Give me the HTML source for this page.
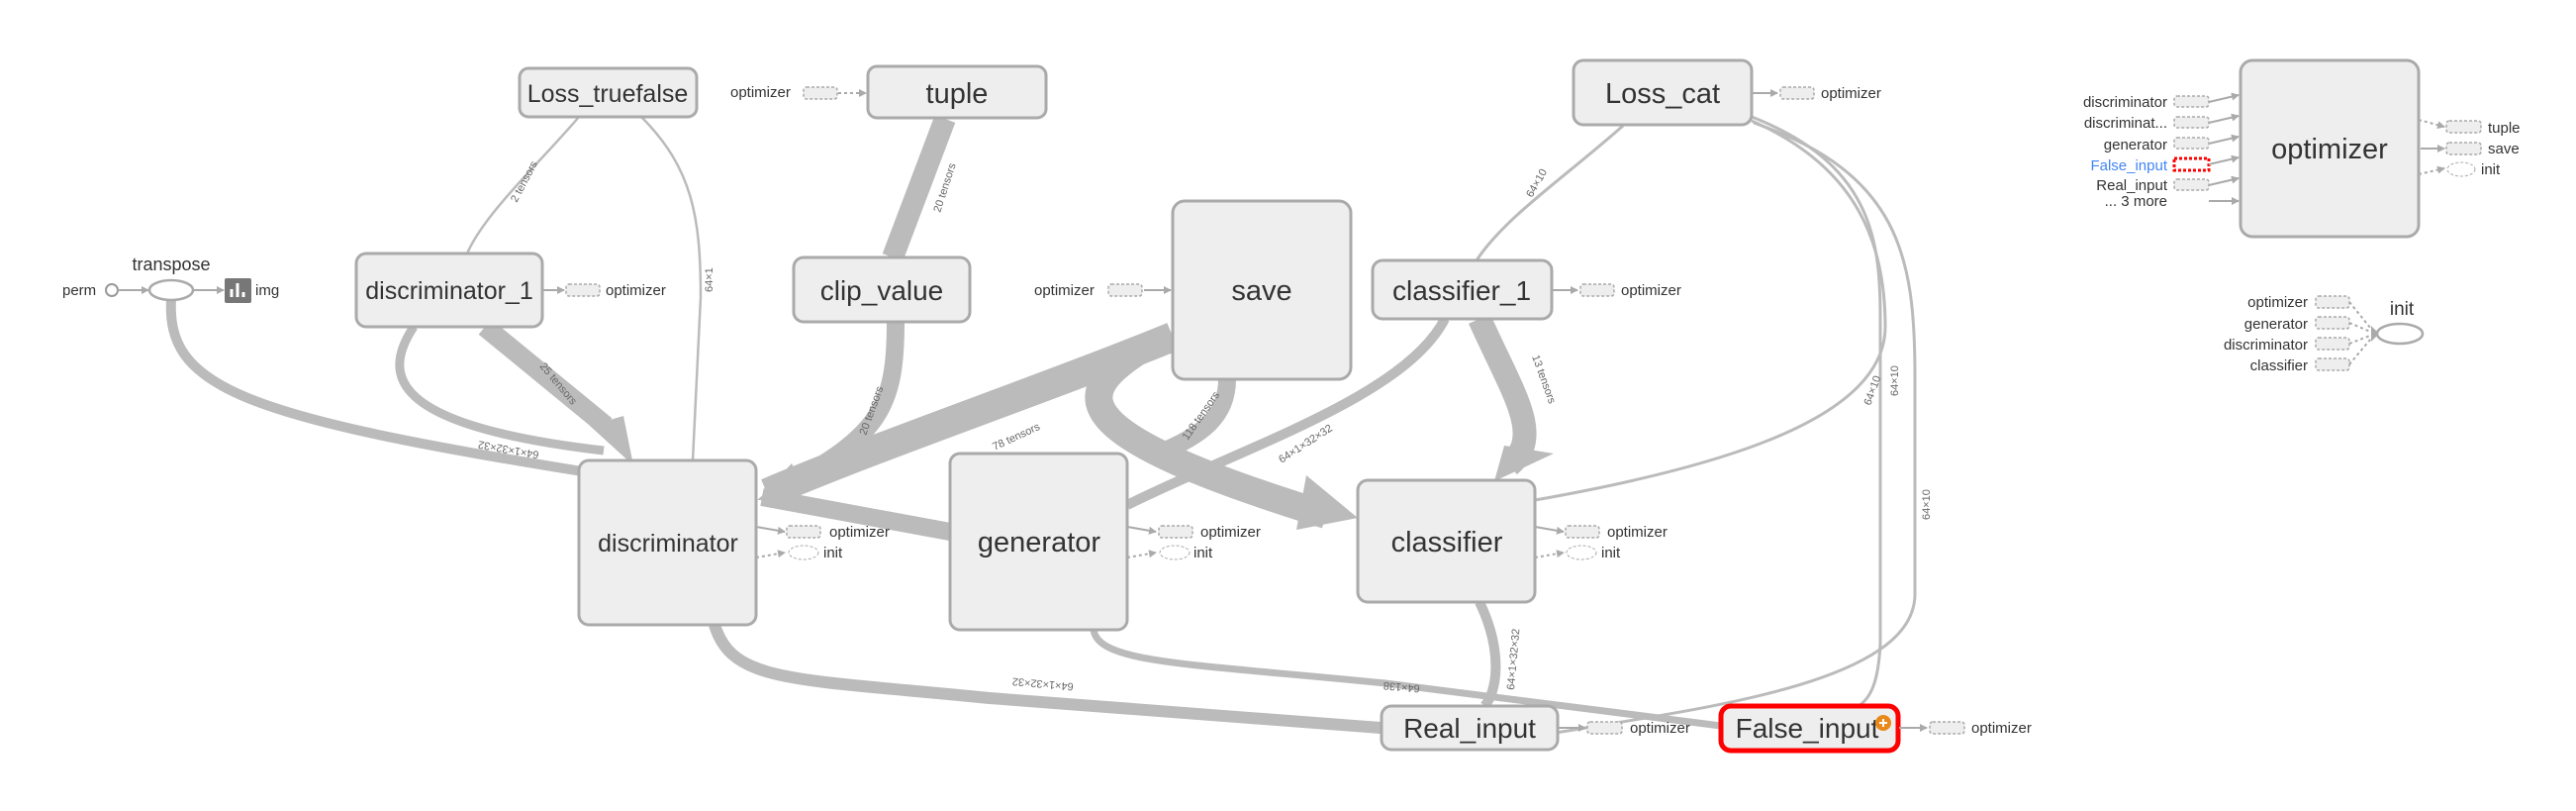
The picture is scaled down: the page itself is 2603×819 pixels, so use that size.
<!DOCTYPE html>
<html><head><meta charset="utf-8"><style>
html,body{margin:0;padding:0;background:#fff;width:2603px;height:819px;overflow:hidden}
svg{display:block;font-family:"Liberation Sans",sans-serif}
.n{fill:#eee;stroke:#aaa;stroke-width:3}
.e{fill:none;stroke:#bbb;stroke-linecap:butt}
.t{fill:#333;text-anchor:middle}
.s{fill:#333;font-size:15px}
.l{fill:#666;font-size:11px}
.st{fill:#eee;stroke:#aaa;stroke-width:1.5;stroke-dasharray:3,2}
.a{stroke:#aaa;stroke-width:2;fill:none}
.ad{stroke:#aaa;stroke-width:2;fill:none;stroke-dasharray:3,3}
</style></head><body>
<svg width="2603" height="819" viewBox="0 0 2603 819">
<defs>
<marker id="ar" markerWidth="8" markerHeight="8" refX="7" refY="4" orient="auto" markerUnits="userSpaceOnUse"><path d="M0,0L8,4L0,8z" fill="#aaa"/></marker>
<marker id="ar2" markerWidth="10" markerHeight="10" refX="9" refY="5" orient="auto" markerUnits="userSpaceOnUse"><path d="M0,0L10,5L0,10z" fill="#aaa"/></marker>
</defs>
<!-- main edges -->
<path class="e" stroke-width="10" d="M173,302 C168,390 240,420 588,476"/>
<path class="e" stroke-width="9" d="M418,330 C385,380 395,430 610,455"/>
<path class="e" stroke-width="20" d="M490,330 L612,430"/>
<path d="M596,430 L640,470 L630,420 Z" fill="#bbb"/>
<path class="e" stroke-width="2.5" d="M585,118 C545,165 490,215 472,256"/>
<path class="e" stroke-width="2.5" d="M648,118 C700,170 708,220 708,300 L700,465"/>
<path class="e" stroke-width="22" d="M955,120 L902,260"/>
<path class="e" stroke-width="18" d="M905,325 C905,410 890,440 790,492"/>
<path d="M770,500 L800,468 L815,498 Z" fill="#bbb"/>
<path class="e" stroke-width="30" d="M1185,340 C1050,395 900,445 775,498"/>
<path d="M765,505 L800,475 L810,505 Z" fill="#bbb"/>
<path class="e" stroke-width="18" d="M960,537 L770,502"/>
<path class="e" stroke-width="28" d="M1150,355 C1080,400 1080,440 1340,520"/>
<path d="M1372,523 L1320,480 L1310,535 Z" fill="#bbb"/>
<path class="e" stroke-width="18" d="M1240,383 C1240,420 1215,440 1170,458"/>
<path class="e" stroke-width="24" d="M1495,322 C1530,400 1560,440 1525,470"/>
<path d="M1510,486 L1570,458 L1520,450 Z" fill="#bbb"/>
<path class="e" stroke-width="10" d="M1460,322 C1420,400 1260,450 1139,510"/>
<path class="e" stroke-width="3" d="M1640,127 C1580,180 1520,220 1492,263"/>
<path class="e" stroke-width="3" d="M1770,122 C1880,170 1905,250 1905,330 C1905,420 1750,470 1551,505"/>
<path class="e" stroke-width="3" d="M1770,118 C1890,165 1900,240 1900,320 L1900,650 C1898,690 1890,705 1878,713"/>
<path class="e" stroke-width="3" d="M1772,124 C1920,175 1935,260 1935,380 L1935,600 C1935,690 1720,715 1572,740"/>
<path class="e" stroke-width="12" d="M722,631 C740,690 800,685 1000,705 L1395,735"/>
<path class="e" stroke-width="7" d="M1105,636 C1110,670 1200,670 1400,690 L1739,733"/>
<path class="e" stroke-width="10" d="M1495,608 C1520,660 1512,700 1500,713"/>
<!-- edge labels -->
<text class="l" transform="translate(522,205) rotate(-62)">2 tensors</text>
<text class="l" transform="translate(720,295) rotate(-90)">64×1</text>
<text class="l" transform="translate(950,215) rotate(-72)">20 tensors</text>
<text class="l" transform="translate(875,440) rotate(-70)">20 tensors</text>
<text class="l" transform="translate(545,370) rotate(50)">25 tensors</text>
<text class="l" transform="translate(1005,455) rotate(-25)">78 tensors</text>
<text class="l" transform="translate(1200,445) rotate(-55)">118 tensors</text>
<text class="l" transform="translate(1295,468) rotate(-33)">64×1×32×32</text>
<text class="l" transform="translate(1548,360) rotate(70)">13 tensors</text>
<text class="l" transform="translate(1548,200) rotate(-60)">64×10</text>
<text class="l" transform="translate(1890,410) rotate(-70)">64×10</text>
<text class="l" transform="translate(1918,400) rotate(-90)">64×10</text>
<text class="l" transform="translate(1950,525) rotate(-90)">64×10</text>
<text class="l" transform="translate(545,456) rotate(190)">64×1×32×32</text>
<text class="l" transform="translate(1085,690) rotate(185)">64×1×32×32</text>
<text class="l" transform="translate(1435,692) rotate(185)">64×138</text>
<text class="l" transform="translate(1530,697) rotate(-85)">64×1×32×32</text>
<!-- nodes -->
<rect class="n" x="525" y="69" width="179" height="49" rx="9"/><text class="t" x="614" y="103" font-size="25">Loss_truefalse</text>
<rect class="n" x="877" y="67" width="180" height="52" rx="9"/><text class="t" x="967" y="104" font-size="29">tuple</text>
<rect class="n" x="360" y="256" width="188" height="74" rx="10"/><text class="t" x="454" y="302" font-size="25">discriminator_1</text>
<rect class="n" x="802" y="260" width="178" height="65" rx="10"/><text class="t" x="891" y="303" font-size="28">clip_value</text>
<rect class="n" x="1185" y="203" width="180" height="180" rx="12"/><text class="t" x="1275" y="303" font-size="29">save</text>
<rect class="n" x="1387" y="263" width="181" height="59" rx="10"/><text class="t" x="1477" y="303" font-size="28">classifier_1</text>
<rect class="n" x="1590" y="61" width="180" height="65" rx="10"/><text class="t" x="1680" y="104" font-size="29">Loss_cat</text>
<rect class="n" x="2264" y="61" width="180" height="178" rx="12"/><text class="t" x="2354" y="160" font-size="29">optimizer</text>
<rect class="n" x="585" y="465" width="179" height="166" rx="10"/><text class="t" x="675" y="557" font-size="25">discriminator</text>
<rect class="n" x="960" y="458" width="179" height="178" rx="10"/><text class="t" x="1050" y="557" font-size="29">generator</text>
<rect class="n" x="1372" y="485" width="179" height="123" rx="10"/><text class="t" x="1462" y="557" font-size="29">classifier</text>
<rect class="n" x="1396" y="713" width="178" height="44" rx="10"/><text class="t" x="1485" y="745" font-size="28">Real_input</text>
<rect x="1739" y="713" width="179" height="45" rx="10" fill="#eee" stroke="#f00" stroke-width="5"/><text class="t" x="1826" y="745" font-size="28">False_input</text>
<circle cx="1903" cy="730" r="8" fill="#e8891a"/><path d="M1899,730h8M1903,726v8" stroke="#fff" stroke-width="2"/>
<!-- transpose -->
<text class="s" x="63" y="298">perm</text>
<circle cx="113" cy="293" r="6" fill="#fff" stroke="#999" stroke-width="2"/>
<line class="a" x1="119" y1="293" x2="150" y2="293" marker-end="url(#ar)"/>
<ellipse cx="173" cy="293" rx="22" ry="10" fill="#fff" stroke="#aaa" stroke-width="2.5"/>
<text class="t" x="173" y="273" font-size="18">transpose</text>
<line class="a" x1="195" y1="293" x2="226" y2="293" marker-end="url(#ar)"/>
<rect x="227" y="281" width="27" height="25" rx="2" fill="#777"/>
<path d="M234,300v-8M240,300v-14M246,300v-5" stroke="#fff" stroke-width="3"/>
<text class="s" x="258" y="298">img</text>
<!-- optimizer stubs -->
<g>
<line class="a" x1="548" y1="293" x2="570" y2="293" marker-end="url(#ar)"/><rect class="st" x="572" y="287" width="34" height="12" rx="3"/><text class="s" x="612" y="298">optimizer</text>
<text class="s" x="738" y="98">optimizer</text><rect class="st" x="812" y="88" width="34" height="12" rx="3"/><line class="ad" x1="847" y1="94" x2="875" y2="94" marker-end="url(#ar)"/>
<text class="s" x="1045" y="298">optimizer</text><rect class="st" x="1120" y="287" width="34" height="12" rx="3"/><line class="a" x1="1156" y1="293" x2="1183" y2="293" marker-end="url(#ar)"/>
<line class="a" x1="1568" y1="293" x2="1594" y2="293" marker-end="url(#ar)"/><rect class="st" x="1597" y="287" width="34" height="12" rx="3"/><text class="s" x="1638" y="298">optimizer</text>
<line class="a" x1="1770" y1="94" x2="1796" y2="94" marker-end="url(#ar)"/><rect class="st" x="1799" y="88" width="34" height="12" rx="3"/><text class="s" x="1840" y="99">optimizer</text>
<line class="a" x1="764" y1="532" x2="793" y2="537" marker-end="url(#ar)"/><rect class="st" x="795" y="531" width="34" height="12" rx="3"/><text class="s" x="838" y="542">optimizer</text>
<line class="ad" x1="764" y1="563" x2="793" y2="558" marker-end="url(#ar)"/><ellipse cx="812" cy="558" rx="15" ry="7" fill="#fff" stroke="#aaa" stroke-dasharray="3,2"/><text class="s" x="832" y="563">init</text>
<line class="a" x1="1139" y1="532" x2="1168" y2="537" marker-end="url(#ar)"/><rect class="st" x="1171" y="531" width="34" height="12" rx="3"/><text class="s" x="1213" y="542">optimizer</text>
<line class="ad" x1="1139" y1="563" x2="1168" y2="558" marker-end="url(#ar)"/><ellipse cx="1187" cy="558" rx="15" ry="7" fill="#fff" stroke="#aaa" stroke-dasharray="3,2"/><text class="s" x="1206" y="563">init</text>
<line class="a" x1="1551" y1="532" x2="1580" y2="537" marker-end="url(#ar)"/><rect class="st" x="1582" y="531" width="34" height="12" rx="3"/><text class="s" x="1624" y="542">optimizer</text>
<line class="ad" x1="1551" y1="563" x2="1580" y2="558" marker-end="url(#ar)"/><ellipse cx="1598" cy="558" rx="15" ry="7" fill="#fff" stroke="#aaa" stroke-dasharray="3,2"/><text class="s" x="1618" y="563">init</text>
<line class="a" x1="1574" y1="735" x2="1602" y2="735" marker-end="url(#ar)"/><rect class="st" x="1604" y="729" width="35" height="12" rx="3"/><text class="s" x="1647" y="740">optimizer</text>
<line class="a" x1="1919" y1="735" x2="1947" y2="735" marker-end="url(#ar)"/><rect class="st" x="1950" y="729" width="35" height="12" rx="3"/><text class="s" x="1992" y="740">optimizer</text>
</g>
<!-- optimizer panel -->
<g font-size="15" fill="#333" text-anchor="end">
<text x="2190" y="108">discriminator</text>
<text x="2190" y="129">discriminat...</text>
<text x="2190" y="151">generator</text>
<text x="2190" y="172" fill="#4285f4">False_input</text>
<text x="2190" y="192">Real_input</text>
<text x="2190" y="208">... 3 more</text>
</g>
<rect class="st" x="2197" y="97" width="35" height="11" rx="3"/>
<rect class="st" x="2197" y="118" width="35" height="11" rx="3"/>
<rect class="st" x="2197" y="139" width="35" height="11" rx="3"/>
<rect x="2197" y="160" width="35" height="12" fill="#fff" stroke="#f00" stroke-width="3" stroke-dasharray="3,2"/>
<rect class="st" x="2197" y="181" width="35" height="11" rx="3"/>
<line class="a" x1="2232" y1="103" x2="2262" y2="96" marker-end="url(#ar)"/>
<line class="a" x1="2232" y1="124" x2="2262" y2="117" marker-end="url(#ar)"/>
<line class="a" x1="2232" y1="145" x2="2262" y2="138" marker-end="url(#ar)"/>
<line class="a" x1="2232" y1="166" x2="2262" y2="159" marker-end="url(#ar)"/>
<line class="a" x1="2232" y1="187" x2="2262" y2="180" marker-end="url(#ar)"/>
<line class="a" x1="2232" y1="203" x2="2262" y2="203" marker-end="url(#ar)"/>
<line class="ad" x1="2444" y1="121" x2="2470" y2="128" marker-end="url(#ar)"/>
<rect class="st" x="2472" y="122" width="35" height="12" rx="3"/><text class="s" x="2514" y="134">tuple</text>
<line class="a" x1="2446" y1="150" x2="2470" y2="150" marker-end="url(#ar)"/>
<rect class="st" x="2472" y="144" width="35" height="12" rx="3"/><text class="s" x="2514" y="155">save</text>
<line class="ad" x1="2444" y1="176" x2="2470" y2="170" marker-end="url(#ar)"/>
<ellipse cx="2487" cy="171" rx="14" ry="7" fill="#fff" stroke="#aaa" stroke-dasharray="3,2"/><text class="s" x="2507" y="176">init</text>
<!-- init panel -->
<g font-size="15" fill="#333" text-anchor="end">
<text x="2332" y="310">optimizer</text>
<text x="2332" y="332">generator</text>
<text x="2332" y="353">discriminator</text>
<text x="2332" y="374">classifier</text>
</g>
<rect class="st" x="2340" y="299" width="34" height="12" rx="3"/>
<rect class="st" x="2340" y="320" width="34" height="12" rx="3"/>
<rect class="st" x="2340" y="341" width="34" height="12" rx="3"/>
<rect class="st" x="2340" y="362" width="34" height="12" rx="3"/>
<path class="ad" d="M2374,305 L2400,337 M2374,326 L2400,337 M2374,347 L2400,337 M2374,368 L2400,337"/>
<path d="M2396,329 L2404,337 L2396,345 Z" fill="#aaa"/>
<ellipse cx="2425" cy="337" rx="23" ry="10" fill="#fff" stroke="#aaa" stroke-width="2.5"/>
<text class="t" x="2427" y="318" font-size="19">init</text>
</svg>
</body></html>
